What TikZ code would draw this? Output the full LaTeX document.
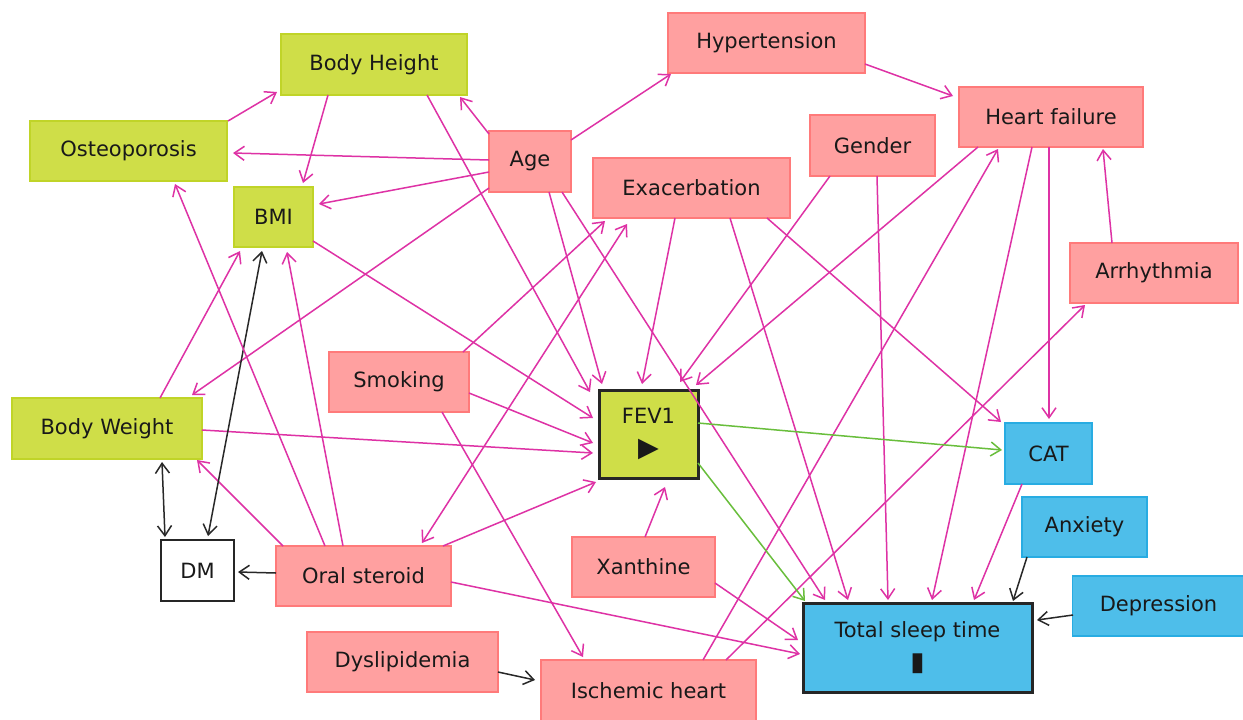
\documentclass[tikz,border=0pt]{standalone}
\usepackage{fontspec}
\setmainfont{DejaVu Sans}
\usetikzlibrary{arrows.meta}
\definecolor{limefill}{RGB}{207,222,72}
\definecolor{limedraw}{RGB}{192,212,40}
\definecolor{pinkfill}{RGB}{255,160,160}
\definecolor{pinkdraw}{RGB}{255,122,122}
\definecolor{bluefill}{RGB}{78,190,234}
\definecolor{bluedraw}{RGB}{40,172,226}
\definecolor{edgemag}{RGB}{222,50,165}
\definecolor{edgegreen}{RGB}{105,190,60}
\definecolor{edgeblack}{RGB}{40,40,40}
\definecolor{txt}{RGB}{25,25,25}
\tikzset{
  nbox/.style={rectangle, inner sep=0pt, outer sep=0pt, line width=0.8pt,
    font=\fontsize{10.5}{12.6}\selectfont, text=txt},
  limebox/.style={nbox, fill=limefill, draw=limedraw},
  pinkbox/.style={nbox, fill=pinkfill, draw=pinkdraw},
  bluebox/.style={nbox, fill=bluefill, draw=bluedraw},
  keybox/.style={line width=1.5pt, draw=black!85},
  conn/.style={line width=0.75pt, -{Straight Barb[length=5pt,width=7pt]}},
  mg/.style={conn, draw=edgemag},
  gr/.style={conn, draw=edgegreen},
  bk/.style={conn, draw=edgeblack},
}
\begin{document}
\begin{tikzpicture}[x=0.5pt,y=-0.5pt]
\useasboundingbox (0,0) rectangle (1243,719);
\fill[white] (0,0) rectangle (1243,719);
% nodes
\node[limebox, minimum width=93pt, minimum height=30.5pt] (bh) at (374,64.5) {Body Height};
\node[limebox, minimum width=98.5pt, minimum height=30pt] (ost) at (128.5,151) {Osteoporosis};
\node[limebox, minimum width=39.5pt, minimum height=30pt] (bmi) at (273.5,217) {BMI};
\node[pinkbox, minimum width=41pt, minimum height=30.5pt] (age) at (530,161.5) {Age};
\node[pinkbox, minimum width=98.5pt, minimum height=30pt] (hyp) at (766.5,43) {Hypertension};
\node[pinkbox, minimum width=92pt, minimum height=30pt] (hf) at (1051,117) {Heart failure};
\node[pinkbox, minimum width=62.5pt, minimum height=30.5pt] (gen) at (872.5,145.5) {Gender};
\node[pinkbox, minimum width=98.5pt, minimum height=30pt] (exa) at (691.5,188) {Exacerbation};
\node[pinkbox, minimum width=84pt, minimum height=30pt] (arr) at (1154,273) {Arrhythmia};
\node[pinkbox, minimum width=70pt, minimum height=30pt] (smk) at (399,382) {Smoking};
\node[limebox, minimum width=95pt, minimum height=30.5pt] (bw) at (107,428.5) {Body Weight};
\node[limebox, keybox, minimum width=49.5pt, minimum height=44pt, align=center] (fev) at (648.5,434) {FEV1\\[3.5pt]{\fontsize{13.5}{13.5}\selectfont ▶}};
\node[bluebox, minimum width=43.5pt, minimum height=30.5pt] (cat) at (1048.5,453.5) {CAT};
\node[bluebox, minimum width=62.5pt, minimum height=30pt] (anx) at (1084.5,527) {Anxiety};
\node[bluebox, minimum width=86pt, minimum height=30pt] (dep) at (1158.5,606) {Depression};
\node[bluebox, keybox, minimum width=114.5pt, minimum height=44.5pt, align=center] (tst) at (917.5,647.5) {Total sleep time\\[3.5pt]{\fontsize{13}{13}\selectfont ▮}};
\node[nbox, draw=black!85, line width=1.1pt, fill=white, minimum width=36.5pt, minimum height=30.5pt] (dm) at (197.5,570.5) {DM};
\node[pinkbox, minimum width=87.5pt, minimum height=30pt] (ora) at (363.5,576) {Oral steroid};
\node[pinkbox, minimum width=71.5pt, minimum height=30pt] (xan) at (643.5,567) {Xanthine};
\node[pinkbox, minimum width=95.5pt, minimum height=30pt] (dys) at (402.5,662) {Dyslipidemia};
\node[pinkbox, minimum width=107.5pt, minimum height=31pt] (isc) at (648.5,691) {Ischemic heart};
% edges
\draw[mg] ([shift={(-41,-27.5)}]age.center) -- ([shift={(86,32.5)}]bh.center);
\draw[mg] ([shift={(41,-21.5)}]age.center) -- ([shift={(-95.5,31)}]hyp.center);
\draw[mg] ([shift={(-41,-1.5)}]age.center) -- ([shift={(104.5,2)}]ost.center);
\draw[mg] ([shift={(-41,10.5)}]age.center) -- ([shift={(45.5,-13)}]bmi.center);
\draw[mg] ([shift={(-41,26.5)}]age.center) -- ([shift={(85,-33.5)}]bw.center);
\draw[mg] ([shift={(19,30.5)}]age.center) -- ([shift={(-46.5,-50)}]fev.center);
\draw[mg] ([shift={(32,30.5)}]age.center) -- ([shift={(-92.5,-47.5)}]tst.center);
\draw[mg] ([shift={(53,30.5)}]bh.center) -- ([shift={(-58.5,-42)}]fev.center);
\draw[mg] ([shift={(-46,30.5)}]bh.center) -- ([shift={(29.5,-34)}]bmi.center);
\draw[mg] ([shift={(99.5,-30)}]ost.center) -- ([shift={(-97,27.5)}]bh.center);
\draw[mg] ([shift={(39.5,24)}]bmi.center) -- ([shift={(-55.5,-16)}]fev.center);
\draw[mg] ([shift={(70,11)}]smk.center) -- ([shift={(-55.5,9)}]fev.center);
\draw[mg] ([shift={(95,1.5)}]bw.center) -- ([shift={(-55.5,19)}]fev.center);
\draw[mg] ([shift={(79.5,-30)}]ora.center) -- ([shift={(-52.5,48)}]fev.center);
\draw[mg] ([shift={(1.5,-30)}]xan.center) -- ([shift={(16.5,53)}]fev.center);
\draw[mg] ([shift={(-16.5,30)}]exa.center) -- ([shift={(-6.5,-50)}]fev.center);
\draw[mg] ([shift={(-42.5,30.5)}]gen.center) -- ([shift={(31.5,-52)}]fev.center);
\draw[mg] ([shift={(-73,30)}]hf.center) -- ([shift={(47.5,-49)}]fev.center);
\draw[mg] ([shift={(98.5,21)}]hyp.center) -- ([shift={(-98,-21)}]hf.center);
\draw[mg] ([shift={(-42,-30)}]arr.center) -- ([shift={(52,32)}]hf.center);
\draw[mg] ([shift={(54.5,-31)}]isc.center) -- ([shift={(-53,32)}]hf.center);
\draw[mg] ([shift={(77.5,-31)}]isc.center) -- ([shift={(-69,32)}]arr.center);
\draw[mg] ([shift={(-19,30)}]hf.center) -- ([shift={(14.5,-47.5)}]tst.center);
\draw[mg] ([shift={(4.5,30.5)}]gen.center) -- ([shift={(-29.5,-47.5)}]tst.center);
\draw[mg] ([shift={(-26.5,30.5)}]cat.center) -- ([shift={(56.5,-47.5)}]tst.center);
\draw[mg] ([shift={(38.5,30)}]exa.center) -- ([shift={(-69.5,-47.5)}]tst.center);
\draw[mg] ([shift={(87.5,6)}]ora.center) -- ([shift={(-117.5,6.5)}]tst.center);
\draw[mg] ([shift={(71.5,16)}]xan.center) -- ([shift={(-119.5,-7.5)}]tst.center);
\draw[bk] ([shift={(-85.5,9)}]dep.center) -- ([shift={(119.5,-27.5)}]tst.center);
\draw[bk] ([shift={(-57.5,30)}]anx.center) -- ([shift={(95.5,-46.5)}]tst.center);
\draw[gr] ([shift={(49.5,-11)}]fev.center) -- ([shift={(-46.5,-3.5)}]cat.center);
\draw[gr] ([shift={(49.5,29)}]fev.center) -- ([shift={(-112.5,-46.5)}]tst.center);
\draw[mg] ([shift={(75.5,30)}]exa.center) -- ([shift={(-47.5,-31.5)}]cat.center);
\draw[mg] ([shift={(-2,30)}]hf.center) -- ([shift={(0.5,-34.5)}]cat.center);
\draw[mg] ([shift={(64,-30)}]smk.center) -- ([shift={(-86.5,33)}]exa.center);
\draw[mg, {Straight Barb[length=5pt,width=7pt]}-{Straight Barb[length=5pt,width=7pt]}] ([shift={(58.5,-33)}]ora.center) -- ([shift={(-64.5,36)}]exa.center);
\draw[mg] ([shift={(-80.5,-30)}]ora.center) -- ([shift={(90,31.5)}]bw.center);
\draw[bk, {Straight Barb[length=5pt,width=7pt]}-{Straight Barb[length=5pt,width=7pt]}] ([shift={(55,33.5)}]bw.center) -- ([shift={(-32.5,-33.5)}]dm.center);
\draw[bk, {Straight Barb[length=5pt,width=7pt]}-{Straight Barb[length=5pt,width=7pt]}] ([shift={(-11.5,34)}]bmi.center) -- ([shift={(10.5,-34.5)}]dm.center);
\draw[bk] ([shift={(-87.5,-3)}]ora.center) -- ([shift={(40.5,1.5)}]dm.center);
\draw[mg] ([shift={(53,-30.5)}]bw.center) -- ([shift={(-33.5,34)}]bmi.center);
\draw[mg] ([shift={(-20.5,-30)}]ora.center) -- ([shift={(13.5,35)}]bmi.center);
\draw[mg] ([shift={(-38.5,-30)}]ora.center) -- ([shift={(46.5,33)}]ost.center);
\draw[mg] ([shift={(43,30)}]smk.center) -- ([shift={(-65.5,-34)}]isc.center);
\draw[bk] ([shift={(95.5,10)}]dys.center) -- ([shift={(-113.5,-11)}]isc.center);
\end{tikzpicture}
\end{document}
